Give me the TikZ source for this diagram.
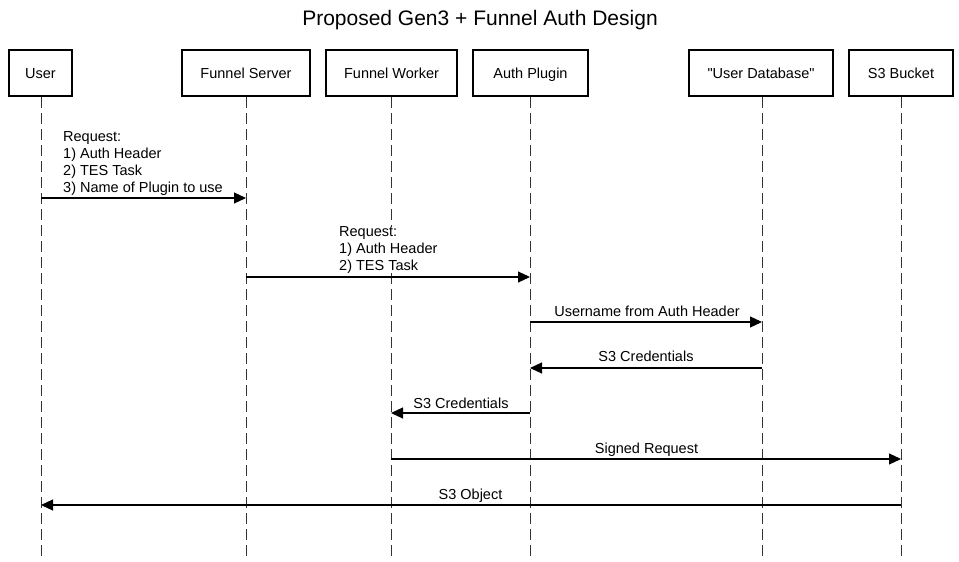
\documentclass[tikz,border=0pt]{standalone}
\usepackage{fontspec}
\setmainfont{Liberation Sans}[Ligatures=TeXOff]
\usetikzlibrary{arrows.meta}
\begin{document}
\begin{tikzpicture}[x=1pt,y=-1pt,
  actor/.style={draw=black,line width=1.8pt,minimum height=46pt,inner sep=0pt,text height=10.4pt,text depth=0pt,font=\fontsize{14.5}{16.7}\selectfont},
  lifeline/.style={line width=1pt,draw=black!80,dash pattern=on 11pt off 5pt},
  msg/.style={line width=1.1pt,-{Triangle[length=12pt,width=11pt]}},
  lbl/.style={fill=white,inner sep=0pt,font=\fontsize{14.5}{16.7}\selectfont},
  mlbl/.style={lbl,align=left,anchor=north west}]
\useasboundingbox (0,0) rectangle (959,562);
\node[font=\fontsize{21}{25}\selectfont,anchor=base] (title) at (480,25.5) {Proposed Gen3 + Funnel Auth Design};
% actors
\node[actor,minimum width=63pt] (user) at (40.5,73) {User};
\node[actor,minimum width=128pt] (fs) at (246,73) {Funnel Server};
\node[actor,minimum width=131pt] (fw) at (391.5,73) {Funnel Worker};
\node[actor,minimum width=115pt] (ap) at (530.5,73) {Auth Plugin};
\node[actor,minimum width=144pt] (db) at (761,73) {"User Database"};
\node[actor,minimum width=104pt] (s3) at (901,73) {S3 Bucket};
% lifeline ends
\coordinate (userE) at (41,560);
\coordinate (fsE) at (246,560);
\coordinate (fwE) at (391,560);
\coordinate (apE) at (530,560);
\coordinate (dbE) at (762,560);
\coordinate (s3E) at (901,560);
\draw[lifeline] (user.south -| userE) -- (userE);
\draw[lifeline] (fs.south -| fsE) -- (fsE);
\draw[lifeline] (fw.south -| fwE) -- (fwE);
\draw[lifeline] (ap.south -| apE) -- (apE);
\draw[lifeline] (db.south -| dbE) -- (dbE);
\draw[lifeline] (s3.south -| s3E) -- (s3E);
% messages
\draw[msg] (userE |- 0,198) -- (fsE |- 0,198);
\node[mlbl] (l1) at (63,131.8) {Request:\\1) Auth Header\\2) TES Task\\3) Name of Plugin to use};
\node[mlbl] (l2) at (339,226.8) {Request:\\1) Auth Header\\2) TES Task};
\draw[msg] (fsE |- 0,277) -- (apE |- 0,277);
\draw[msg] (apE |- 0,322) -- (dbE |- 0,322);
\node[lbl,anchor=base] (l3) at (647,316.2) {Username from Auth Header};
\draw[msg] (dbE |- 0,368) -- (apE |- 0,368);
\node[lbl,anchor=base] (l4) at (646,361.2) {S3 Credentials};
\draw[msg] (apE |- 0,413) -- (fwE |- 0,413);
\node[lbl,anchor=base] (l5) at (461,408.2) {S3 Credentials};
\draw[msg] (fwE |- 0,459) -- (s3E |- 0,459);
\node[lbl,anchor=base] (l6) at (646.5,453.2) {Signed Request};
\draw[msg] (s3E |- 0,505) -- (userE |- 0,505);
\node[lbl,anchor=base] (l7) at (470.5,499.2) {S3 Object};
\end{tikzpicture}
\end{document}
